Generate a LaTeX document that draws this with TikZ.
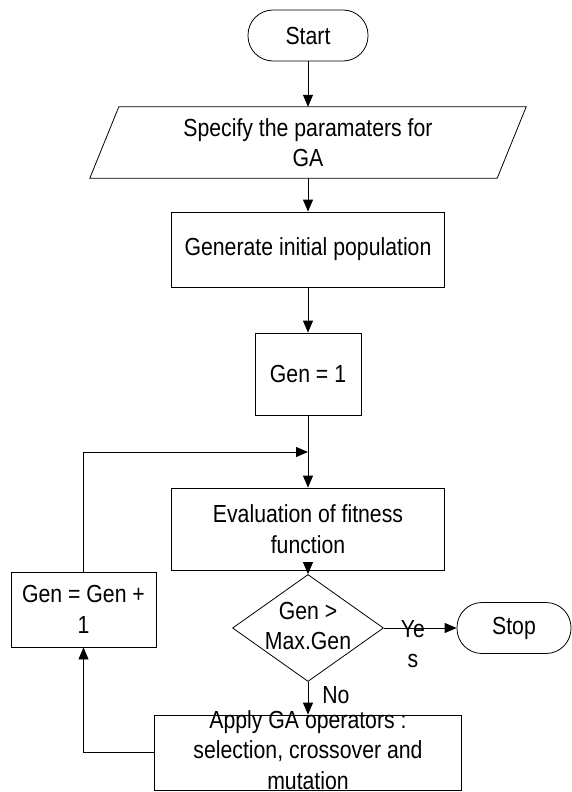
\documentclass[tikz,border=0pt]{standalone}
\usepackage{fontspec}
\setmainfont{Liberation Sans}[FakeStretch=0.86]
\usetikzlibrary{shapes.geometric,arrows.meta}
\begin{document}
\begin{tikzpicture}[x=1pt,y=-1pt,
  every node/.style={font=\fontsize{24.7pt}{30.5pt}\selectfont, inner sep=0pt, align=center},
  box/.style={draw, line width=0.8pt, rectangle},
  term/.style={draw, line width=0.8pt, rectangle, rounded corners=25pt, minimum height=51pt},
  ln/.style={line width=0.8pt},
  arr/.style={line width=0.8pt, -{Triangle[length=12pt,width=10pt]}}]
\useasboundingbox (0,0) rectangle (572,792);

\node[term, minimum width=120pt] (start) at (308,35.5) {Start};

\node[minimum width=407pt, minimum height=71pt] (spec) at (308,142.5) {Specify the paramaters for\\GA};
\draw[ln] ([xshift=-14.5pt]spec.south west) -- ([xshift=14.5pt]spec.north west)
  -- ([xshift=14.5pt]spec.north east) -- ([xshift=-14.5pt]spec.south east) -- cycle;

\node[box, minimum width=273pt, minimum height=75pt] (gen) at (308,249.5) {Generate initial population};
\node[box, minimum width=106pt, minimum height=82pt] (gen1) at (308,374) {Gen = 1};
\coordinate (j) at (308,452);
\node[box, minimum width=273pt, minimum height=82pt] (eval) at (308,529) {Evaluation of fitness\\function};

\node[draw, line width=0.8pt, diamond, minimum width=151pt, minimum height=107pt] (dec) at (308,628) {};
\node (dectxt) at ([yshift=2pt]dec.center) {Gen >\\Max.Gen};

\node[term, minimum width=114pt] (stop) at (514,628) {Stop};

\node[box, minimum width=145pt, minimum height=75pt] (inc) at (83.5,609.5) {Gen = Gen +\\1};

\node[box, minimum width=307pt, minimum height=75pt] (apply) at (308,752.5) {};
\node (applytxt) at ([yshift=2.5pt]apply.center) {Apply GA operators :\\selection, crossover and\\mutation};

\draw[arr] (start.south) -- (spec.north);
\draw[arr] (spec.south) -- (gen.north);
\draw[arr] (gen.south) -- (gen1.north);
\draw[arr] (gen1.south) -- (eval.north);
\draw[arr] (eval.south) -- (dec.north);
\draw[arr] (dec.east) -- node[pos=0.4, yshift=-16pt] {Ye\\s} (stop.west);
\draw[arr] (dec.south) -- node[pos=0.4, anchor=west, xshift=14pt] {No} (apply.north);
\draw[arr] (apply.west) -| (inc.south);
\draw[arr] (inc.north) |- (j);
\end{tikzpicture}
\end{document}
